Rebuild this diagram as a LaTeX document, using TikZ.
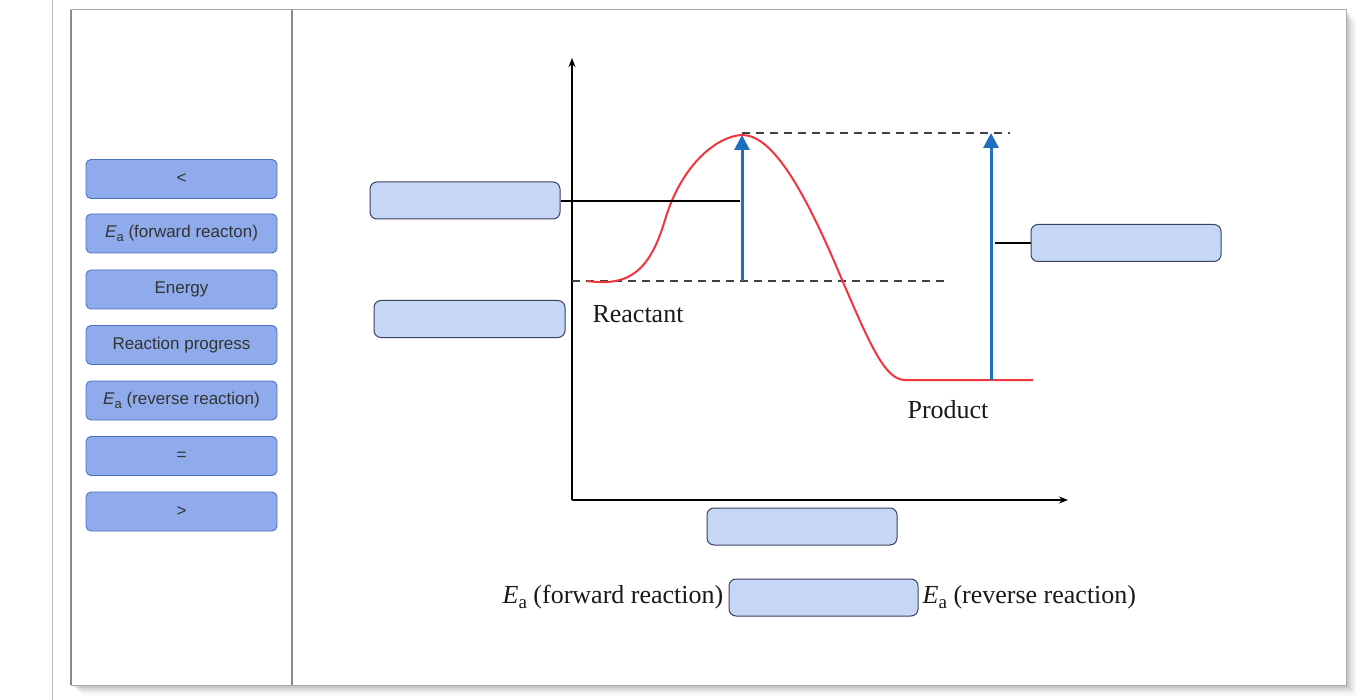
\documentclass[tikz,border=0pt]{standalone}
\usepackage{fontspec}
\setsansfont{Liberation Sans}
\newfontfamily\lblfont{Liberation Serif}
\usetikzlibrary{arrows.meta}
\definecolor{btnfill}{HTML}{8FABEB}
\definecolor{btnedge}{HTML}{4A72C4}
\definecolor{dropfill}{HTML}{C6D6F5}
\definecolor{dropedge}{HTML}{3C4160}
\definecolor{arrowblue}{HTML}{1F6FC0}
\definecolor{curvered}{HTML}{F0363C}
\definecolor{txtgray}{HTML}{333333}
\definecolor{framegray}{HTML}{A8A8A8}
\definecolor{divgray}{HTML}{8A8A8A}
\newcommand{\btnEa}{\textit{E}{\fontsize{13}{14}\selectfont\raisebox{-4pt}{a}}}
\newcommand{\lblEa}{\textit{E}{\fontsize{19}{20}\selectfont\raisebox{-5pt}{a}}}
\begin{document}
\begin{tikzpicture}[x=1pt,y=-1pt,
  btn/.style={draw=btnedge, fill=btnfill, rounded corners=5pt, minimum width=191pt, minimum height=39pt, inner sep=0pt, font=\sffamily\fontsize{17}{20}\selectfont, text=txtgray, line width=0.9pt},
  drop/.style={draw=dropedge, fill=dropfill, rounded corners=7pt, minimum height=37pt, line width=1pt},
  axis/.style={line width=1.6pt, -{Stealth[length=9pt,width=7pt]}},
  blue arrow/.style={arrowblue, line width=3pt, -{Triangle[length=15pt,width=15pt]}},
  guide/.style={draw=black!75, line width=1.2pt, dash pattern=on 8pt off 6pt},
  lbl/.style={font=\lblfont\fontsize{26}{28}\selectfont, text=black!90},
  link/.style={line width=1.2pt, draw=black}]
\useasboundingbox (0,0) rectangle (1372,700);
\fill[white] (0,0) rectangle (1372,700);
% outer line
\draw[framegray!80, line width=1pt] (52,0) -- (52,700);
% shadow
\foreach \i/\o in {1/0.10,3/0.08,5/0.06,7/0.045,9/0.03,11/0.02} {
  \fill[black, opacity=\o] (71+\i,10+\i) rectangle (1346+\i,685+\i);
}
\fill[white] (71,10) rectangle (1346,685);
\draw[framegray, line width=1pt] (71,10) rectangle (1346,685);
\draw[divgray, line width=2pt] (71,10) -- (71,685);
\draw[divgray, line width=2pt] (292,10) -- (292,685);

% left buttons
\node[btn] (b1) at (181.5,179) {<};
\node[btn] (b2) at (181.5,233.5) {\btnEa\ (forward reacton)};
\node[btn] (b3) at (181.5,289.5) {Energy};
\node[btn] (b4) at (181.5,345) {Reaction progress};
\node[btn] (b5) at (181.5,400.5) {\btnEa\ (reverse reaction)};
\node[btn] (b6) at (181.5,456) {=};
\node[btn] (b7) at (181.5,511.5) {>};

% axes
\coordinate (o) at (572,500);
\coordinate (ytop) at (572,58);
\coordinate (xend) at (1068,500);
\draw[axis] (o) -- (ytop);
\draw[axis] (o) -- (xend);

% guide lines
\coordinate (g1a) at (572,281);
\coordinate (g1b) at (947,281);
\coordinate (g2a) at (742,133);
\coordinate (g2b) at (1010,133);
\draw[guide] (g1a) -- (g1b);
\draw[guide] (g2a) -- (g2b);

% curve
\draw[curvered, line width=2pt]
  (587,281) .. controls (630,287) and (650,270) .. (665,220)
  .. controls (682,163) and (718,136) .. (742,135)
  .. controls (770,135) and (800,180) .. (840,275)
  .. controls (870,345) and (885,380) .. (905,380) -- (1033,380);

% blue arrows
\coordinate (a1s) at (742,281);
\coordinate (a1e) at (742,135);
\coordinate (a2s) at (991,380);
\coordinate (a2e) at (991,133);
\draw[blue arrow] (a1s) -- (a1e);
\draw[blue arrow] (a2s) -- (a2e);

% drop boxes
\node[drop, minimum width=190pt] (d1) at (465,200.5) {};
\node[drop, minimum width=191pt] (d2) at (469.5,319) {};
\node[drop, minimum width=190pt] (d3) at (1126,243) {};
\node[drop, minimum width=190pt] (d4) at (802,526.5) {};
\node[drop, minimum width=189pt] (d5) at (823.5,597.5) {};

% connectors
\coordinate (c1) at (740,201);
\coordinate (c2) at (995,243);
\draw[link] (d1.east |- c1) -- (c1);
\draw[link] (c2) -- (d3.west |- c2);

% labels
\node[lbl] (react) at (638,314) {Reactant};
\node[lbl] (prod) at (948,410) {Product};
\node[lbl, anchor=east, inner sep=2pt] (fwd) at ([xshift=-3pt]d5.west) {\lblEa\ (forward reaction)};
\node[lbl, anchor=west, inner sep=2pt] (rev) at ([xshift=2pt]d5.east) {\lblEa\ (reverse reaction)};
\end{tikzpicture}
\end{document}
